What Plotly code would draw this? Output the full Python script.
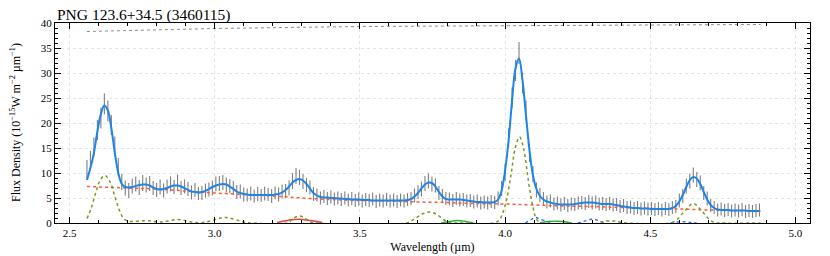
import numpy as np
import plotly.graph_objects as go

# ---------------- data ----------------
WAVE_START = 2.560
WAVE_STEP = 0.012
N_POINTS = 194
wavelength = np.round(WAVE_START + WAVE_STEP * np.arange(N_POINTS), 4)

flux = [
    10.8, 12.6, 15.2, 18.6, 21.0, 23.8, 22.4, 19.6, 15.4, 11.2,
    8.2, 7.0, 6.5, 7.4, 7.8, 7.1, 8.0, 7.6, 7.9, 7.0,
    6.6, 7.2, 6.5, 7.3, 7.8, 7.2, 8.1, 7.0, 7.3, 6.8,
    6.1, 6.6, 5.9, 6.0, 6.5, 6.7, 7.0, 7.8, 7.9, 8.1,
    7.6, 7.4, 7.0, 6.2, 6.3, 5.7, 5.6, 5.9, 5.4, 5.8,
    5.5, 5.9, 5.7, 5.4, 6.0, 5.7, 6.3, 6.4, 7.0, 8.4,
    9.4, 9.1, 8.3, 7.6, 7.1, 5.8, 5.6, 5.0, 5.3, 4.9,
    5.2, 4.8, 5.0, 4.7, 5.0, 4.6, 4.9, 4.5, 4.8, 4.4,
    4.7, 4.5, 4.8, 4.3, 4.6, 4.4, 4.7, 4.4, 4.6, 4.3,
    4.6, 4.4, 4.7, 4.9, 5.5, 6.2, 6.8, 7.9, 8.4, 7.8,
    7.5, 6.0, 5.5, 4.9, 4.8, 4.5, 4.9, 4.6, 4.7, 4.4,
    4.5, 4.2, 4.4, 4.0, 4.2, 4.0, 4.3, 4.1, 4.9, 6.9,
    10.2, 17.0, 25.0, 30.5, 34.0, 28.0, 22.5, 14.0, 9.8, 6.6,
    5.6, 4.9, 4.2, 4.4, 3.8, 4.0, 3.6, 3.9, 3.5, 3.8,
    3.7, 4.0, 4.1, 3.9, 4.3, 4.0, 4.2, 3.8, 3.9, 3.7,
    3.9, 3.6, 3.7, 3.3, 3.5, 3.1, 3.2, 2.9, 3.1, 2.8,
    3.0, 2.8, 2.9, 2.7, 2.9, 2.6, 2.9, 2.7, 3.1, 3.3,
    4.5, 5.4, 7.4, 8.4, 9.6, 8.7, 8.0, 6.0, 4.9, 3.5,
    3.1, 2.6, 2.8, 2.5, 2.7, 2.4, 2.6, 2.4, 2.7, 2.3,
    2.5, 2.3, 2.5, 2.6,
]

flux_err = [
    1.8, 1.8, 1.9, 2.0, 2.1, 2.1, 2.1, 2.0, 1.9, 1.8,
    1.6, 1.5, 1.5, 1.5, 1.5, 1.5, 1.6, 1.5, 1.5, 1.4,
    1.4, 1.5, 1.4, 1.4, 1.5, 1.4, 1.6, 1.4, 1.4, 1.4,
    1.4, 1.4, 1.3, 1.4, 1.4, 1.4, 1.5, 1.5, 1.5, 1.5,
    1.5, 1.4, 1.4, 1.4, 1.4, 1.4, 1.3, 1.4, 1.3, 1.4,
    1.3, 1.4, 1.3, 1.4, 1.3, 1.4, 1.4, 1.4, 1.5, 1.6,
    1.6, 1.5, 1.5, 1.4, 1.4, 1.4, 1.3, 1.3, 1.3, 1.3,
    1.3, 1.3, 1.3, 1.3, 1.3, 1.3, 1.3, 1.3, 1.3, 1.3,
    1.3, 1.3, 1.3, 1.3, 1.3, 1.3, 1.3, 1.3, 1.3, 1.3,
    1.3, 1.3, 1.3, 1.3, 1.4, 1.4, 1.5, 1.5, 1.5, 1.5,
    1.4, 1.4, 1.3, 1.3, 1.3, 1.3, 1.3, 1.3, 1.3, 1.3,
    1.3, 1.3, 1.3, 1.3, 1.3, 1.3, 1.3, 1.3, 1.4, 1.5,
    1.7, 1.9, 2.1, 2.1, 2.2, 2.1, 2.0, 1.8, 1.6, 1.5,
    1.4, 1.3, 1.3, 1.3, 1.3, 1.3, 1.3, 1.3, 1.3, 1.3,
    1.3, 1.3, 1.3, 1.3, 1.3, 1.3, 1.3, 1.3, 1.3, 1.3,
    1.3, 1.3, 1.3, 1.3, 1.3, 1.3, 1.3, 1.3, 1.3, 1.3,
    1.3, 1.3, 1.3, 1.3, 1.3, 1.3, 1.3, 1.3, 1.3, 1.3,
    1.4, 1.4, 1.5, 1.5, 1.5, 1.5, 1.5, 1.4, 1.4, 1.3,
    1.3, 1.3, 1.3, 1.3, 1.3, 1.3, 1.3, 1.3, 1.3, 1.3,
    1.3, 1.3, 1.3, 1.3,
]

model_fit = [
    8.6, 11.0, 14.0, 18.3, 21.8, 23.5, 22.5, 19.0, 14.0, 10.0,
    7.8, 7.2, 7.1, 7.2, 7.4, 7.6, 7.7, 7.7, 7.5, 7.1,
    6.8, 6.7, 6.8, 7.0, 7.3, 7.5, 7.5, 7.3, 7.0, 6.6,
    6.3, 6.2, 6.1, 6.2, 6.4, 6.8, 7.2, 7.5, 7.7, 7.8,
    7.7, 7.3, 6.8, 6.3, 6.0, 5.8, 5.7, 5.6, 5.6, 5.6,
    5.6, 5.6, 5.6, 5.6, 5.7, 5.8, 6.1, 6.6, 7.3, 8.1,
    8.6, 8.8, 8.5, 7.8, 6.9, 6.0, 5.5, 5.2, 5.1, 5.1,
    5.0, 5.0, 4.9, 4.9, 4.8, 4.8, 4.7, 4.7, 4.7, 4.6,
    4.6, 4.6, 4.5, 4.5, 4.5, 4.5, 4.5, 4.5, 4.5, 4.5,
    4.5, 4.5, 4.6, 4.8, 5.3, 6.0, 6.9, 7.7, 8.1, 8.0,
    7.3, 6.2, 5.3, 4.8, 4.7, 4.7, 4.7, 4.7, 4.6, 4.5,
    4.4, 4.3, 4.2, 4.2, 4.1, 4.1, 4.1, 4.2, 4.7, 6.5,
    10.5, 16.5, 24.5, 31.0, 32.9, 28.5, 21.5, 14.5, 9.5, 6.8,
    5.4, 4.7, 4.3, 4.1, 3.9, 3.8, 3.7, 3.7, 3.7, 3.7,
    3.8, 3.9, 4.0, 4.1, 4.1, 4.1, 4.0, 3.9, 3.8, 3.8,
    3.8, 3.7, 3.6, 3.4, 3.3, 3.2, 3.1, 3.0, 3.0, 2.9,
    2.9, 2.9, 2.8, 2.8, 2.8, 2.8, 2.8, 2.8, 3.0, 3.4,
    4.3, 5.6, 7.2, 8.6, 9.2, 8.9, 7.8, 6.2, 4.7, 3.6,
    3.0, 2.7, 2.6, 2.6, 2.6, 2.5, 2.5, 2.5, 2.5, 2.5,
    2.4, 2.4, 2.4, 2.4,
]

cont_wave = [2.56, 2.7, 2.8, 2.9, 3.0, 3.1, 3.2, 3.3, 3.4, 3.5, 3.6, 3.7, 3.8,
             3.9, 4.0, 4.1, 4.2, 4.3, 4.4, 4.5, 4.6, 4.7, 4.8, 4.88]
cont_flux = [7.3, 7.0, 6.8, 6.4, 6.0, 5.7, 5.4, 5.0, 4.7, 4.5, 4.4, 4.2, 4.1,
             3.9, 3.8, 3.6, 3.4, 3.3, 3.1, 2.9, 2.8, 2.6, 2.5, 2.4]

top_wave = [2.56, 3.0, 3.5, 4.0, 4.5, 4.88]
top_flux = [38.3, 38.9, 39.3, 39.5, 39.6, 39.7]

olive_wave = [2.560, 2.575, 2.590, 2.605, 2.622, 2.640, 2.655, 2.670, 2.685, 2.700,
              2.720, 2.750, 2.780, 2.810, 2.840, 2.870, 2.900, 2.930, 2.960, 2.990,
              3.020, 3.040, 3.070, 3.100, 3.130, 3.250, 3.270, 3.290, 3.310, 3.330,
              3.350, 3.660, 3.690, 3.715, 3.740, 3.765, 3.790, 3.810, 3.850, 3.960,
              3.980, 4.000, 4.020, 4.035, 4.050, 4.065, 4.080, 4.095, 4.110, 4.130,
              4.330, 4.340, 4.360, 4.380, 4.400, 4.420, 4.570, 4.590, 4.620, 4.648,
              4.675, 4.700, 4.720, 4.740, 4.880]
olive_flux = [0.9, 3.0, 6.0, 8.5, 9.5, 8.2, 5.5, 2.8, 1.0, 0.4,
              0.3, 0.45, 0.4, 0.2, 0.4, 0.7, 0.45, 0.1, 0.1, 0.5,
              1.0, 1.1, 0.7, 0.2, 0.0, 0.0, 0.9, 1.4, 1.0, 0.2,
              0.0, 0.0, 0.9, 1.8, 2.2, 1.7, 0.6, 0.1, 0.0, 0.0,
              0.6, 3.5, 9.5, 15.0, 17.2, 14.5, 8.5, 3.5, 0.6, 0.0,
              0.0, 0.35, 0.4, 0.4, 0.1, 0.0, 0.0, 0.6, 2.5, 3.9,
              2.6, 0.9, 0.1, 0.0, 0.0]

red_wave = [3.215, 3.25, 3.29, 3.33, 3.37]
red_flux = [0.1, 0.5, 0.75, 0.5, 0.1]

green_wave_a = [3.78, 3.81, 3.835, 3.86, 3.89]
green_flux_a = [0.0, 0.3, 0.5, 0.35, 0.0]
green_wave_b = [4.12, 4.15, 4.18, 4.21, 4.23]
green_flux_b = [0.0, 0.3, 0.35, 0.2, 0.0]

blue_wave_a = [4.07, 4.09, 4.105, 4.12, 4.15, 4.16]
blue_flux_a = [0.0, 0.7, 1.1, 0.8, 0.2, 0.0]
blue_wave_b = [4.25, 4.28, 4.297, 4.32, 4.34]
blue_flux_b = [0.0, 0.5, 0.75, 0.5, 0.0]
blue_wave_c = [4.57, 4.59, 4.62, 4.64, 4.66]
blue_flux_c = [0.0, 0.2, 0.25, 0.1, 0.0]

TITLE = "PNG 123.6+34.5 (3460115)"
X_TITLE = "Wavelength (µm)"
Y_TITLE = "Flux Density (10<sup>−15</sup>W m<sup>−2</sup> µm<sup>−1</sup>)"

# ---------------- figure ----------------
FONT = "Liberation Serif"
fig = go.Figure()

fig.add_trace(go.Scatter(
    x=top_wave, y=top_flux, mode="lines",
    line=dict(color="#8c8c8c", width=1, dash="dot"), hoverinfo="skip"))

fig.add_trace(go.Scatter(
    x=wavelength, y=flux, mode="markers",
    marker=dict(size=1, color="rgba(0,0,0,0)"),
    error_y=dict(type="data", array=flux_err, visible=True,
                 color="rgba(95,95,95,0.8)", thickness=1.1, width=0)))

fig.add_trace(go.Scatter(
    x=cont_wave, y=cont_flux, mode="lines", line_shape="spline",
    line=dict(color="#ff5a36", width=1.5, dash="3px,3px")))

for wx, wy in [(green_wave_a, green_flux_a), (green_wave_b, green_flux_b)]:
    fig.add_trace(go.Scatter(x=wx, y=wy, mode="lines", line_shape="spline",
                             line=dict(color="#22b422", width=1.3)))

fig.add_trace(go.Scatter(x=red_wave, y=red_flux, mode="lines", line_shape="spline",
                         line=dict(color="#e8453c", width=1.5)))

for wx, wy in [(blue_wave_a, blue_flux_a), (blue_wave_b, blue_flux_b), (blue_wave_c, blue_flux_c)]:
    fig.add_trace(go.Scatter(x=wx, y=wy, mode="lines", line_shape="spline",
                             line=dict(color="#2a6ef0", width=1.3, dash="3px,3px")))

fig.add_trace(go.Scatter(
    x=olive_wave, y=olive_flux, mode="lines", line_shape="spline",
    line=dict(color="#7a9a1e", width=1.5, dash="dot")))

fig.add_trace(go.Scatter(
    x=wavelength, y=model_fit, mode="lines", line_shape="spline",
    line=dict(color="#1f84e8", width=2)))

axis_common = dict(
    showline=True, linecolor="black", linewidth=1.2, mirror="ticks",
    ticks="inside", ticklen=6, tickwidth=1, tickcolor="black",
    showgrid=True, gridcolor="#e4e4e4", griddash="dot", gridwidth=1,
    zeroline=False, automargin=False,
    tickfont=dict(family=FONT, size=11, color="black"),
)

fig.update_xaxes(range=[2.45, 5.05], tick0=2.5, dtick=0.5, tickformat=".1f",
                 minor=dict(dtick=0.1, ticks="inside", ticklen=3, tickcolor="black", showgrid=False),
                 title=dict(text=X_TITLE, font=dict(family=FONT, size=12, color="black"), standoff=4),
                 **axis_common)
fig.update_yaxes(range=[0, 40], tick0=0, dtick=5,
                 minor=dict(dtick=1, ticks="inside", ticklen=3, tickcolor="black", showgrid=False),
                 **axis_common)

fig.add_annotation(text=Y_TITLE, textangle=-90, xref="paper", yref="paper",
                   x=0, y=0.5, xanchor="center", yanchor="middle", xshift=-40,
                   showarrow=False, font=dict(family=FONT, size=12, color="black"))
fig.add_annotation(text=TITLE, xref="paper", yref="paper", x=0, y=1,
                   xanchor="left", yanchor="bottom", xshift=0, yshift=-3,
                   showarrow=False, font=dict(family=FONT, size=15.5, color="black"))

# the page body adds an 8px offset, so margins are reduced accordingly
fig.update_layout(
    width=830, height=256,
    margin=dict(l=47, r=28, t=15, b=41),
    paper_bgcolor="white", plot_bgcolor="white",
    showlegend=False,
    font=dict(family=FONT, color="black"),
)

fig.write_html("out.html")
